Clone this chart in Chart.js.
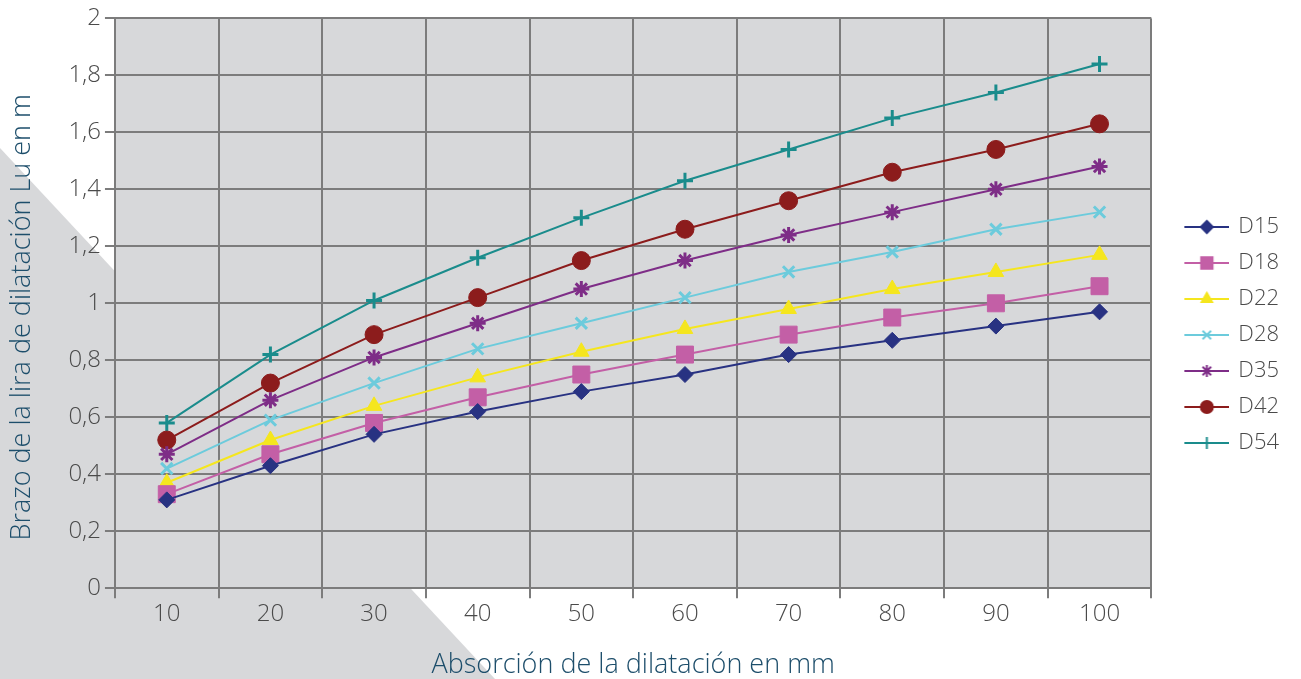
<!DOCTYPE html>
<html>
<head>
<meta charset="utf-8">
<script src="https://cdn.jsdelivr.net/npm/chart.js@4.4.1/dist/chart.umd.min.js"></script>
<style>
  html, body { margin: 0; padding: 0; background: #ffffff; }
  #wrap { width: 1301px; height: 679px; }
</style>
</head>
<body>
<div id="wrap"><canvas id="lyraChart" width="1301" height="679"></canvas></div>
<script>
// absorción (mm) on the x axis, brazo Lu (m) on the y axis
const categories = ['10', '20', '30', '40', '50', '60', '70', '80', '90', '100'];

const d15 = [0.31, 0.43, 0.54, 0.62, 0.69, 0.75, 0.82, 0.87, 0.92, 0.97];
const d18 = [0.33, 0.47, 0.58, 0.67, 0.75, 0.82, 0.89, 0.95, 1.00, 1.06];
const d22 = [0.37, 0.52, 0.64, 0.74, 0.83, 0.91, 0.98, 1.05, 1.11, 1.17];
const d28 = [0.42, 0.59, 0.72, 0.84, 0.93, 1.02, 1.11, 1.18, 1.26, 1.32];
const d35 = [0.47, 0.66, 0.81, 0.93, 1.05, 1.15, 1.24, 1.32, 1.40, 1.48];
const d42 = [0.52, 0.72, 0.89, 1.02, 1.15, 1.26, 1.36, 1.46, 1.54, 1.63];
const d54 = [0.58, 0.82, 1.01, 1.16, 1.30, 1.43, 1.54, 1.65, 1.74, 1.84];

const seriesNames = ['D15', 'D18', 'D22', 'D28', 'D35', 'D42', 'D54'];

const FONT = '"Open Sans", Lato, sans-serif';
const TITLE_COLOR = '#1d4e6b';
const TICK_COLOR = '#4a4a4a';
const GRID_COLOR = '#7c7c7c';
const PLOT_BG = '#d7d8da';

// one entry per series: colour + marker
const styles = [
    { color: '#283282', marker: 'rectRot', radius: 8, legendRadius: 6 },
    { color: '#c35fa6', marker: 'rect', radius: 12, legendRadius: 8 },
    { color: '#f5e61e', marker: 'triangle', radius: 9, legendRadius: 6 },
    { color: '#6ccbdc', marker: 'crossRot', radius: 8, legendRadius: 6 },
    { color: '#7e2d87', marker: 'star', radius: 8, legendRadius: 6 },
    { color: '#8c1c1c', marker: 'circle', radius: 9, legendRadius: 6 },
    { color: '#1a8c8c', marker: 'cross', radius: 8, legendRadius: 6 }
];

// legend icon: short line with the marker in its middle
function legendIcon(st) {
    let c = document.createElement('canvas');
    c.width = 66;
    c.height = 20;
    let ctx = c.getContext('2d');
    ctx.strokeStyle = st.color;
    ctx.fillStyle = st.color;
    ctx.lineWidth = 2;
    ctx.beginPath();
    ctx.moveTo(21, 10);
    ctx.lineTo(66, 10);
    ctx.stroke();
    Chart.helpers.drawPoint(ctx, {
        pointStyle: st.marker,
        radius: st.legendRadius,
        rotation: 0,
        borderWidth: 2
    }, 43.5, 10);
    return c;
}

// grey decoration behind the plot + grey plot area
const backdrop = {
    id: 'backdrop',
    afterLayout(chart) {
        // legend block sits a little above the middle in the original
        if (chart.legend) {
            chart.legend.top -= 8;
            chart.legend.bottom -= 8;
        }
    },
    beforeDraw(chart) {
        const ctx = chart.ctx;
        const a = chart.chartArea;
        ctx.save();
        ctx.fillStyle = '#ffffff';
        ctx.fillRect(0, 0, chart.width, chart.height);
        ctx.fillStyle = PLOT_BG;
        ctx.beginPath();
        ctx.moveTo(0, 148);
        ctx.lineTo(495, chart.height);
        ctx.lineTo(0, chart.height);
        ctx.closePath();
        ctx.fill();
        ctx.fillRect(a.left, a.top, a.right - a.left, a.bottom - a.top);
        ctx.restore();
    }
};

const allSeries = [d15, d18, d22, d28, d35, d42, d54];

const datasets = allSeries.map((vals, i) => {
    const st = styles[i];
    return {
        label: seriesNames[i],
        data: vals,
        borderColor: st.color,
        backgroundColor: st.color,
        borderWidth: 2,
        pointStyle: st.marker,
        pointRadius: st.radius,
        pointBorderWidth: (st.marker === 'cross' || st.marker === 'crossRot' || st.marker === 'star') ? 3 : 1,
        pointBackgroundColor: st.color,
        pointBorderColor: st.color,
        tension: 0,
        fill: false
    };
});

document.addEventListener("DOMContentLoaded", function () {
    new Chart(document.getElementById('lyraChart'), {
        type: 'line',
        data: { labels: categories, datasets: datasets },
        plugins: [backdrop],
        options: {
            responsive: false,
            animation: false,
            devicePixelRatio: 1,
            layout: { padding: { top: 7, right: 12, left: 6, bottom: 0 } },
            plugins: {
                tooltip: { enabled: false },
                legend: {
                    position: 'right',
                    align: 'center',
                    labels: {
                        usePointStyle: true,
                        pointStyleWidth: 62,
                        boxHeight: 20,
                        padding: 14,
                        color: TICK_COLOR,
                        font: { family: FONT, size: 22, weight: 300 },
                        generateLabels: function (chart) {
                            return chart.data.datasets.map((ds, i) => ({
                                text: ds.label,
                                pointStyle: legendIcon(styles[i]),
                                fillStyle: styles[i].color,
                                strokeStyle: styles[i].color,
                                lineWidth: 0,
                                fontColor: TICK_COLOR,
                                hidden: false,
                                datasetIndex: i
                            }));
                        }
                    }
                }
            },
            scales: {
                x: {
                    offset: true,
                    grid: {
                        offset: true,
                        color: GRID_COLOR,
                        lineWidth: 2,
                        tickLength: 10,
                        drawTicks: true
                    },
                    border: { color: GRID_COLOR, width: 2 },
                    ticks: {
                        color: TICK_COLOR,
                        font: { family: FONT, size: 24, weight: 300 },
                        padding: 2
                    },
                    title: {
                        display: true,
                        text: 'Absorción de la dilatación en mm',
                        color: TITLE_COLOR,
                        font: { family: FONT, size: 27, weight: 300, lineHeight: 1.0 },
                        padding: { top: 21, bottom: 0 }
                    }
                },
                y: {
                    min: 0,
                    max: 2,
                    grid: {
                        color: GRID_COLOR,
                        lineWidth: 2,
                        tickLength: 10
                    },
                    border: { color: GRID_COLOR, width: 2 },
                    ticks: {
                        stepSize: 0.2,
                        color: TICK_COLOR,
                        font: { family: FONT, size: 24, weight: 300 },
                        padding: 4,
                        callback: function (value) {
                            let v = Math.round(value * 10) / 10;
                            return String(v).replace('.', ',');
                        }
                    },
                    title: {
                        display: true,
                        // trailing no-break spaces nudge the centred title a bit lower, as in the original
                        text: 'Brazo de la lira de dilatación Lu en m\u00a0\u00a0\u00a0\u00a0',
                        color: TITLE_COLOR,
                        font: { family: FONT, size: 27, weight: 300 },
                        padding: { top: 0, bottom: 26 }
                    }
                }
            }
        }
    });
});
</script>
</body>
</html>
